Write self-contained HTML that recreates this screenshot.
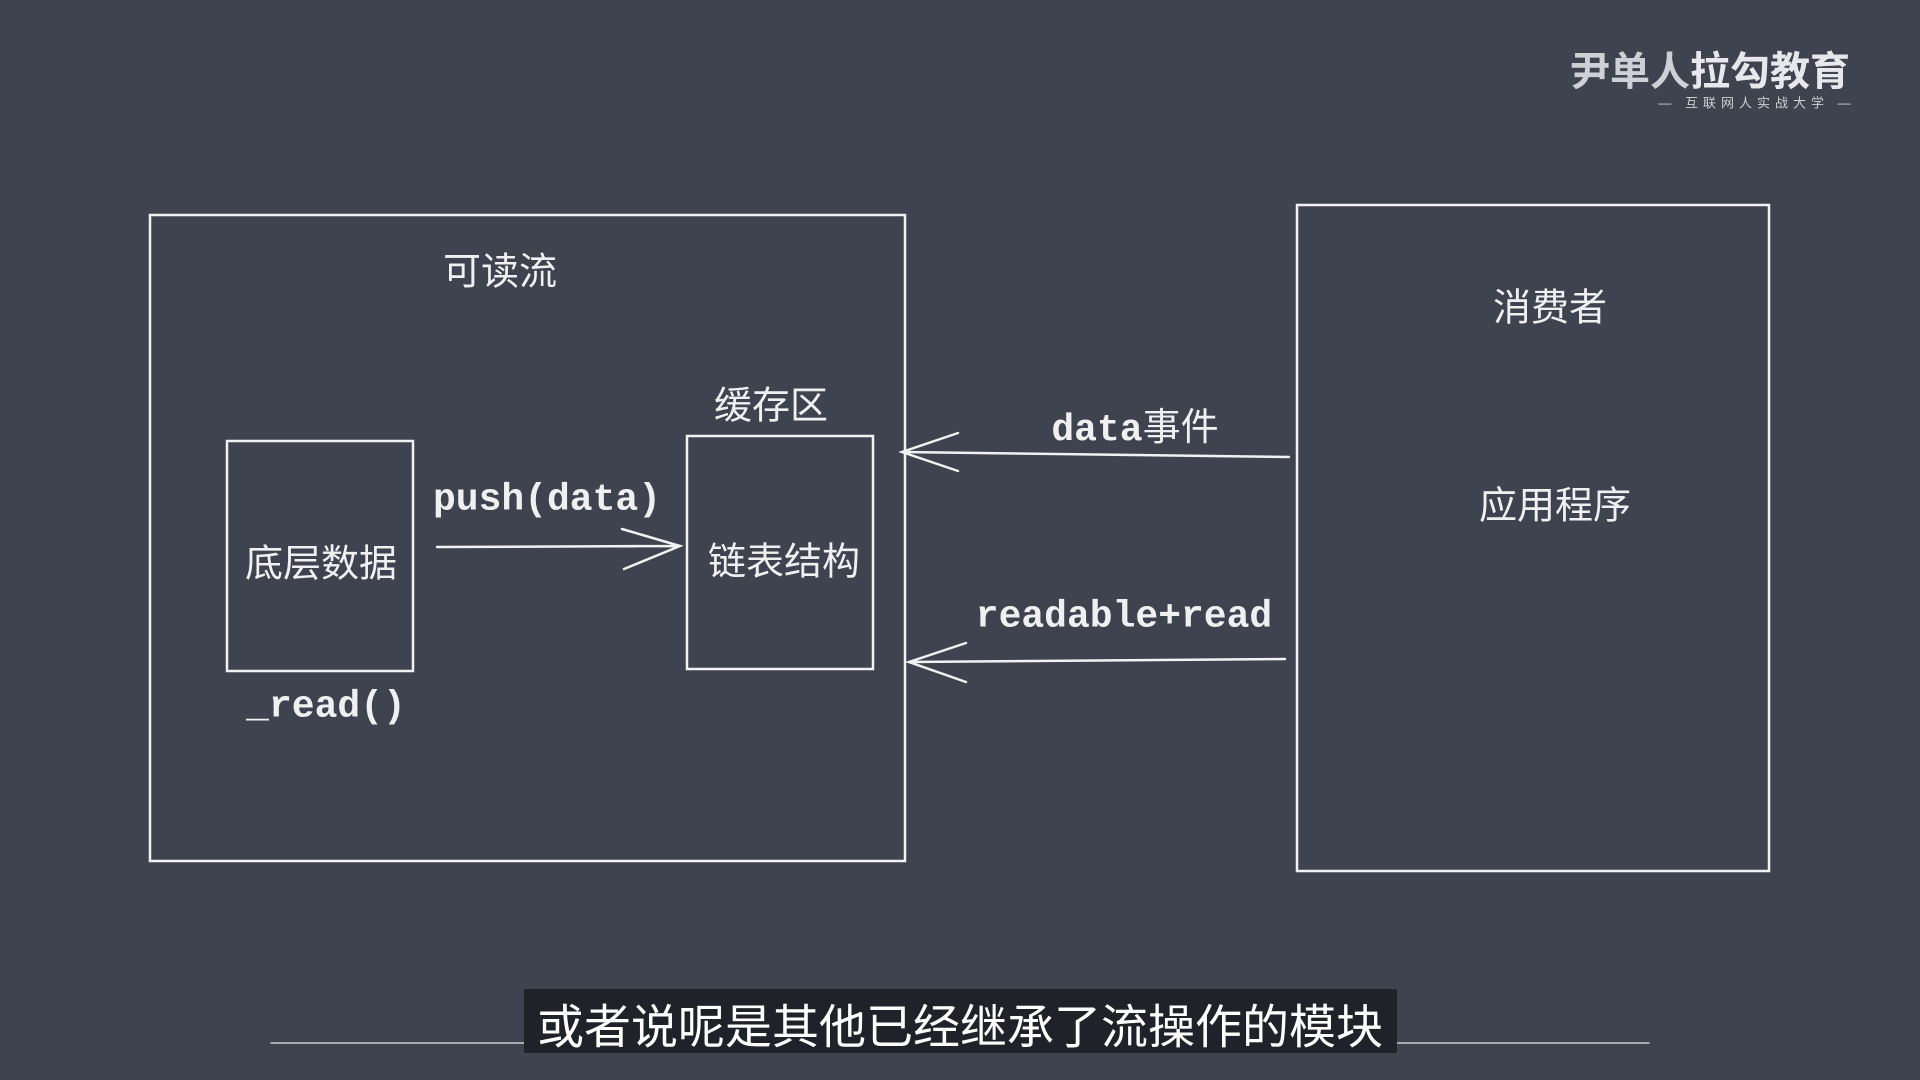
<!DOCTYPE html>
<html><head><meta charset="utf-8"><style>
body{margin:0;width:1920px;height:1080px;background:#3f424f;overflow:hidden;position:relative;font-family:"Liberation Sans","Noto Sans CJK SC",sans-serif;color:#f0f0f0}
.t{position:absolute;transform:translate(-50%,-50%);white-space:nowrap;font-size:38px}
.m{font-family:"Liberation Mono","DejaVu Sans Mono",monospace;font-weight:bold;font-size:38px}
</style></head><body>
<svg width="1920" height="1080" style="position:absolute;left:0;top:0" fill="none" stroke="#f2f2f2" stroke-width="2.5" stroke-linecap="round">
<rect x="150" y="215" width="755" height="646"/>
<rect x="1297" y="205" width="472" height="666"/>
<rect x="227" y="441" width="186" height="230"/>
<rect x="687" y="436" width="186" height="233"/>
<path d="M437 547 L680 546 M622 529 L680 546 L624 569"/>
<path d="M1289 457 L902 452 M958 433 L902 452 L958 471"/>
<path d="M1285 659 L909 662 M966 643 L909 662 L966 682"/>
<line x1="271" y1="1043" x2="1649" y2="1043" stroke="#c9ccd4" stroke-width="1.5"/>
</svg>
<div class="t" style="left:500px;top:268px">可读流</div>
<div class="t" style="left:771px;top:402px">缓存区</div>
<div class="t" style="left:321px;top:560px">底层数据</div>
<div class="t" style="left:784px;top:558px">链表结构</div>
<div class="t m" style="left:547px;top:500px">push(data)</div>
<div class="t m" style="left:326px;top:707px">_read()</div>
<div class="t m" style="left:1135px;top:424px">data<span style="font-family:'Noto Sans CJK SC',sans-serif;font-weight:normal">事件</span></div>
<div class="t m" style="left:1124px;top:617px">readable+read</div>
<div class="t" style="left:1550px;top:304px">消费者</div>
<div class="t" style="left:1555px;top:502px">应用程序</div>
<div style="position:absolute;left:524px;top:989px;width:873px;height:64px;background:#202229;border-radius:2px"></div>
<div class="t" style="left:960px;top:1023px;font-size:47px;color:#fff">或者说呢是其他已经继承了流操作的模块</div>
<div class="t" style="left:1710px;top:68px;font-size:40px;font-weight:bold;color:#cfd0d6">尹单人<span style="color:#e8e8ec">拉勾教育</span></div>
<div class="t" style="left:1757px;top:102px;font-size:13px;color:#cfd0d6;letter-spacing:5px">— 互联网人实战大学 —</div>
</body></html>
